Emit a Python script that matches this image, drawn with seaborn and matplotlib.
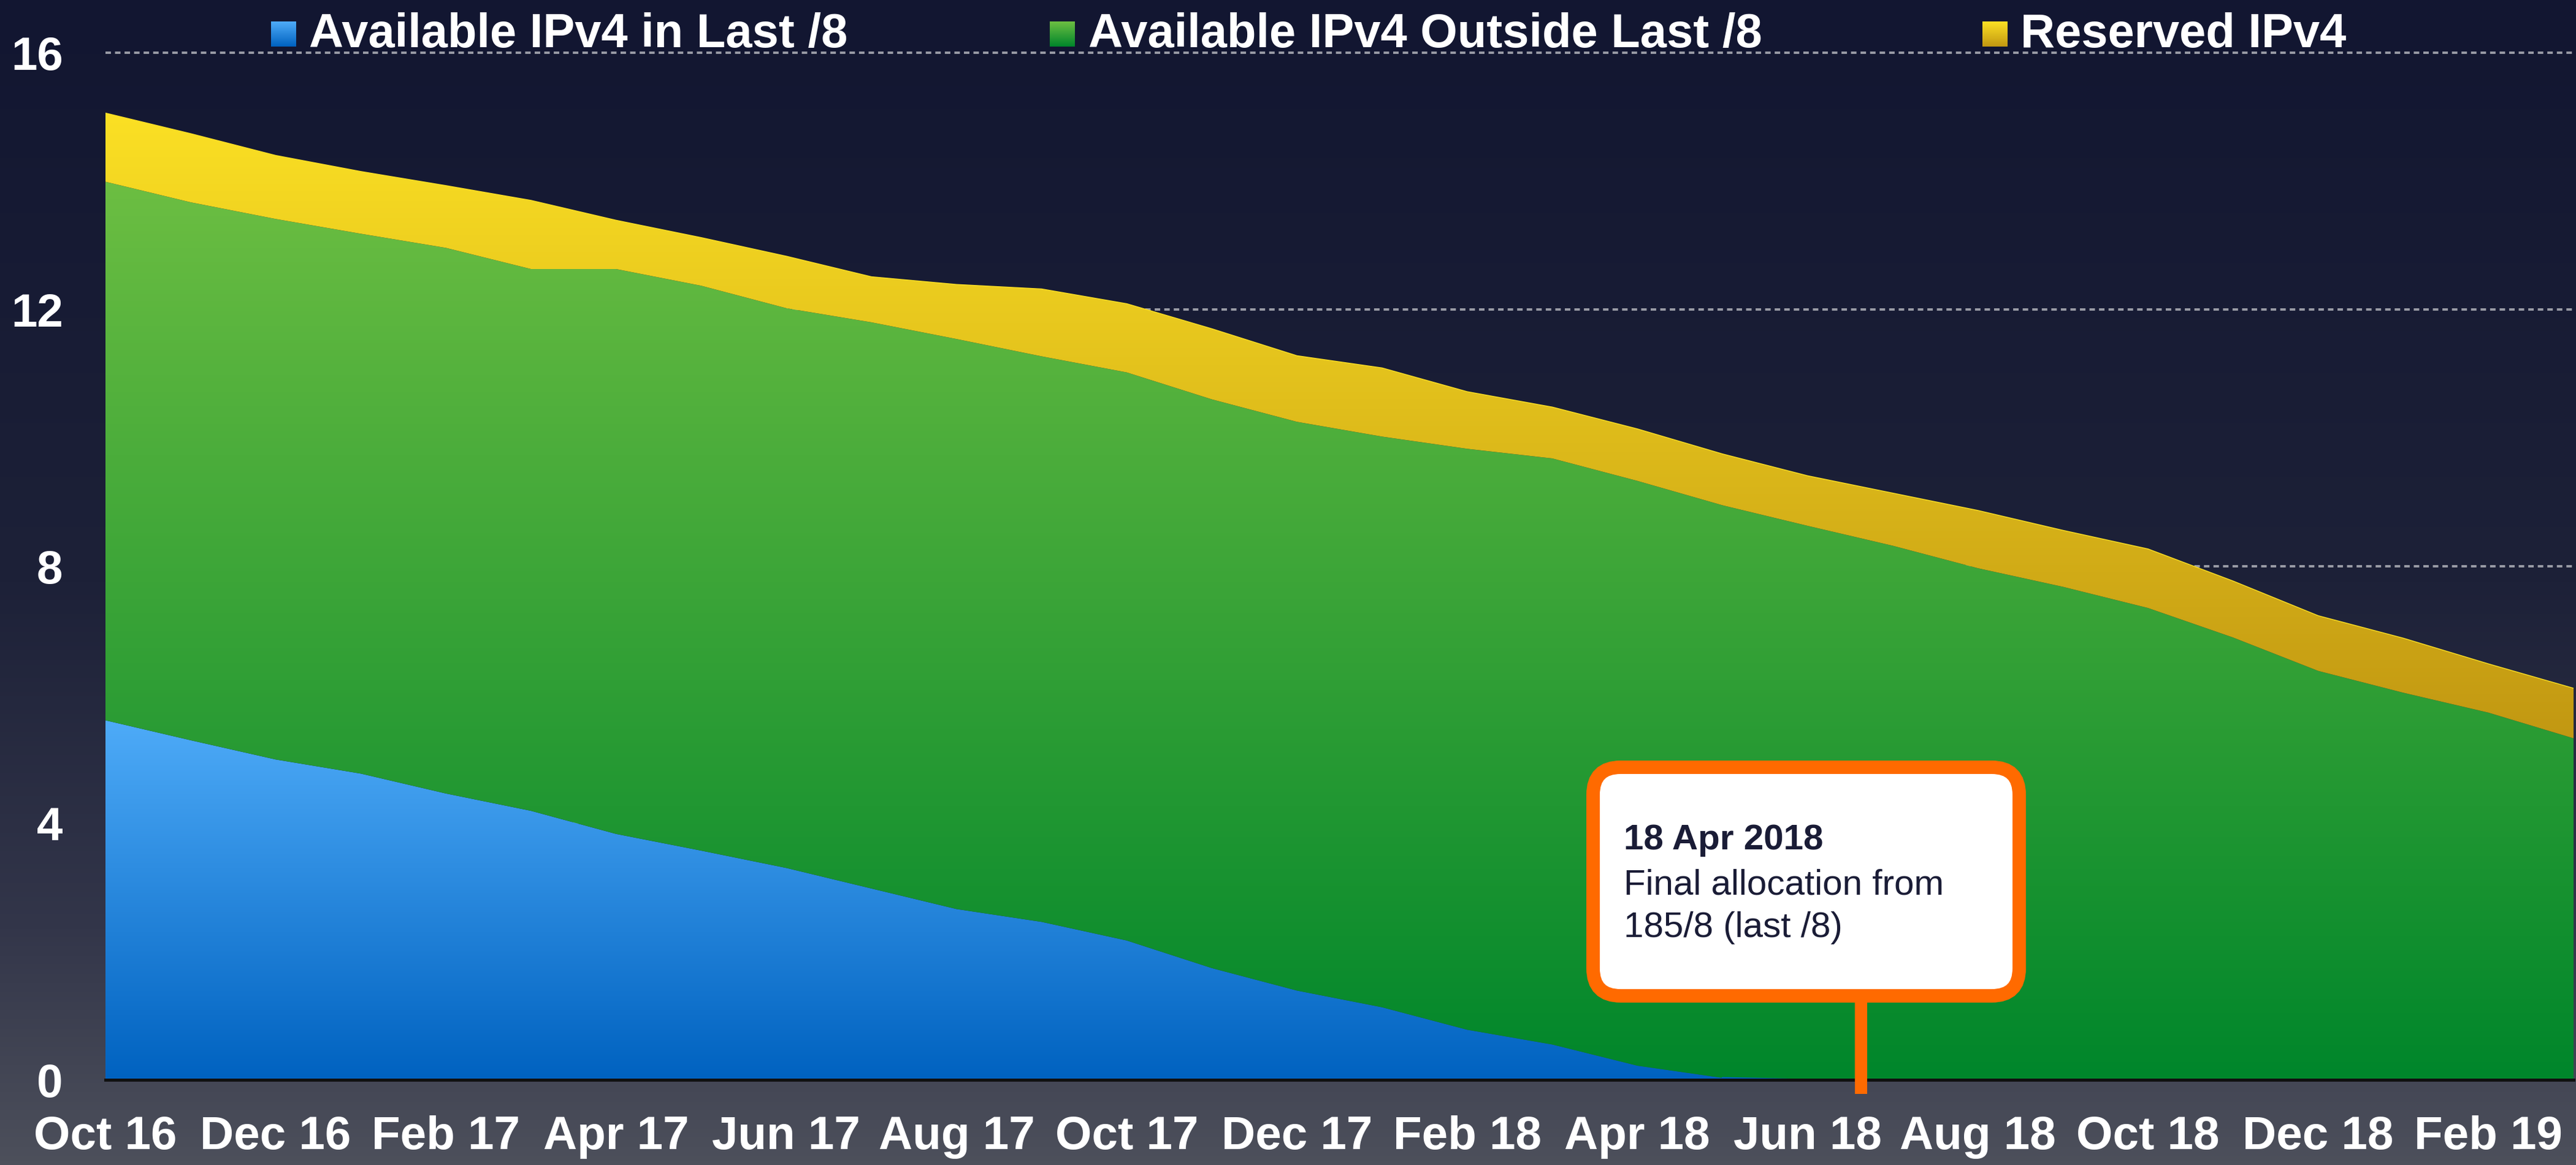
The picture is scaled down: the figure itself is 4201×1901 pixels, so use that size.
import numpy as np
import pandas as pd
import matplotlib
matplotlib.use("Agg")
import matplotlib.pyplot as plt
import seaborn as sns
from matplotlib.colors import LinearSegmentedColormap
from matplotlib.patches import FancyBboxPatch, Rectangle

# Monthly data, Oct 2016 .. Mar 2019 (number of /8s)
MONTHS = ["Oct 16", "Nov 16", "Dec 16", "Jan 17", "Feb 17", "Mar 17", "Apr 17", "May 17",
          "Jun 17", "Jul 17", "Aug 17", "Sep 17", "Oct 17", "Nov 17", "Dec 17", "Jan 18",
          "Feb 18", "Mar 18", "Apr 18", "May 18", "Jun 18", "Jul 18", "Aug 18", "Sep 18",
          "Oct 18", "Nov 18", "Dec 18", "Jan 19", "Feb 19", "Mar 19"]
LAST_8 = [5.60, 5.29, 4.99, 4.77, 4.46, 4.19, 3.83, 3.57, 3.30, 2.98, 2.66, 2.46, 2.17, 1.74,
          1.39, 1.13, 0.78, 0.55, 0.22, 0.03, 0, 0, 0, 0, 0, 0, 0, 0, 0, 0]
OUTSIDE_LAST_8 = [8.39, 8.38, 8.42, 8.41, 8.50, 8.44, 8.80, 8.80, 8.72, 8.82, 8.88, 8.81, 8.85,
                  8.86, 8.86, 8.89, 9.05, 9.13, 9.11, 8.92, 8.63, 8.32, 7.97, 7.68, 7.35, 6.89,
                  6.37, 6.03, 5.72, 5.32]
RESERVED = [1.07, 1.07, 0.99, 0.97, 0.97, 1.07, 0.76, 0.75, 0.81, 0.71, 0.85, 1.05, 1.07, 1.10,
            1.03, 1.07, 0.89, 0.80, 0.81, 0.80, 0.78, 0.82, 0.90, 0.88, 0.92, 0.88, 0.86, 0.85,
            0.76, 0.78]
SERIES_NAMES = ["Available IPv4 in Last /8", "Available IPv4 Outside Last /8", "Reserved IPv4"]
YTICKS = [0, 4, 8, 12, 16]

ANNOT_TITLE = "18 Apr 2018"
ANNOT_LINES = ["Final allocation from", "185/8 (last /8)"]

# (top colour, bottom colour) per series
GRADIENTS = [("#4eabf8", "#0062c0"), ("#6cbe42", "#00862b"), ("#fbe024", "#c29812")]
ORANGE = "#ff6a00"
W, H, DPI = 4201, 1901, 100

sns.set_theme(style="dark")
plt.rcParams["font.family"] = ["Liberation Sans", "DejaVu Sans"]

df = pd.DataFrame({"month": MONTHS, "last8": LAST_8, "outside": OUTSIDE_LAST_8,
                   "reserved": RESERVED})
df["x"] = np.arange(len(df))
df["lvl1"] = df["last8"]
df["lvl2"] = df["lvl1"] + df["outside"]
df["lvl3"] = df["lvl2"] + df["reserved"]

fig = plt.figure(figsize=(W / DPI, H / DPI), dpi=DPI)

# background gradient
bg = fig.add_axes([0, 0, 1, 1], zorder=-10)
bg_cmap = LinearSegmentedColormap.from_list(
    "bg", [(0, "#121631"), (0.5, "#1d2138"), (0.8, "#33364a"), (1, "#4d505b")])
bg.imshow(np.linspace(0, 1, 256).reshape(-1, 1), aspect="auto", cmap=bg_cmap)
bg.axis("off")

ax = fig.add_axes([172 / W, (H - 1762) / H, (4197 - 172) / W, (1762 - 86) / H])
ax.patch.set_alpha(0)


def gradient_fill(ax, x, lower, upper, top_color, bottom_color):
    poly = ax.fill_between(x, lower, upper, facecolor="none", edgecolor="none")
    cmap = LinearSegmentedColormap.from_list("g", [bottom_color, top_color])
    grad = np.linspace(0, 1, 256).reshape(-1, 1)
    im = ax.imshow(grad, aspect="auto", origin="lower", cmap=cmap,
                   extent=[x.min(), x.max(), lower.min(), upper.max()], zorder=2)
    im.set_clip_path(poly.get_paths()[0], transform=ax.transData)


x = df["x"].to_numpy(dtype=float)
levels = [np.zeros(len(df)), df["lvl1"].to_numpy(), df["lvl2"].to_numpy(), df["lvl3"].to_numpy()]
for i, (top_c, bot_c) in enumerate(GRADIENTS):
    gradient_fill(ax, x, levels[i], levels[i + 1], top_c, bot_c)

# thin blue trace where the last /8 pool is empty, and the top edge of the stack
empty = df[df["x"] >= df.loc[df["last8"] > 0, "x"].max()]
sns.lineplot(data=empty, x="x", y="lvl1", color=GRADIENTS[0][1], lw=2.0, ax=ax, zorder=3)
sns.lineplot(data=df, x="x", y="lvl3", color=GRADIENTS[2][0], lw=1.0, ax=ax, zorder=3)

ax.set_xlim(0, len(df) - 1)
ax.set_ylim(0, 16)
ax.set_xticks(df["x"][::2])
ax.set_xticklabels(df["month"][::2])
ax.set_yticks(YTICKS)
ax.set_xlabel("")
ax.set_ylabel("")

ax.set_axisbelow(True)
ax.yaxis.grid(True, color="#9a9ca6", lw=2.8, linestyle=(0, (2.3, 1.7)))
ax.xaxis.grid(False)
for gl in ax.get_ygridlines():
    gl.set_clip_on(False)

for side in ["top", "left", "right"]:
    ax.spines[side].set_visible(False)
ax.spines["bottom"].set_color("#101010")
ax.spines["bottom"].set_linewidth(3.6)
ax.spines["bottom"].set_zorder(4)

ax.tick_params(axis="x", length=0, pad=42, labelsize=55, labelcolor="white")
ax.tick_params(axis="y", length=0, pad=50, labelsize=55, labelcolor="white")
for lab in ax.get_xticklabels() + ax.get_yticklabels():
    lab.set_fontweight("bold")

# overlay in pixel coordinates for legend and call-out
ov = fig.add_axes([0, 0, 1, 1], zorder=10)
ov.set_xlim(0, W)
ov.set_ylim(H, 0)
ov.axis("off")

legend_pos = [(442, 504), (1712, 1775), (3233, 3295)]
for (sq_x, tx), name, (top_c, bot_c) in zip(legend_pos, SERIES_NAMES, GRADIENTS):
    cmap = LinearSegmentedColormap.from_list("l", [top_c, bot_c])
    ov.imshow(np.linspace(0, 1, 64).reshape(-1, 1), aspect="auto", cmap=cmap,
              extent=[sq_x, sq_x + 41, 76, 35], zorder=11)
    ov.text(tx, 77, name, fontsize=56, fontweight="bold", color="white", va="baseline",
            ha="left", zorder=11)
ov.set_xlim(0, W)
ov.set_ylim(H, 0)

# call-out box with stem
ov.add_patch(Rectangle((3025, 1620), 20, 165, facecolor=ORANGE, edgecolor="none", zorder=11))
ov.add_patch(FancyBboxPatch((2598, 1252), 695, 373, boxstyle="round,pad=0,rounding_size=45",
                            facecolor="white", edgecolor=ORANGE, lw=15.8, zorder=12))
ov.text(2648, 1386, ANNOT_TITLE, fontsize=42, fontweight="bold", color="#1a1c36",
        va="baseline", zorder=13)
for j, line in enumerate(ANNOT_LINES):
    ov.text(2648, 1459 + 70 * j, line, fontsize=42, color="#1a1c36", va="baseline", zorder=13)

fig.savefig("out.png", dpi=DPI)
